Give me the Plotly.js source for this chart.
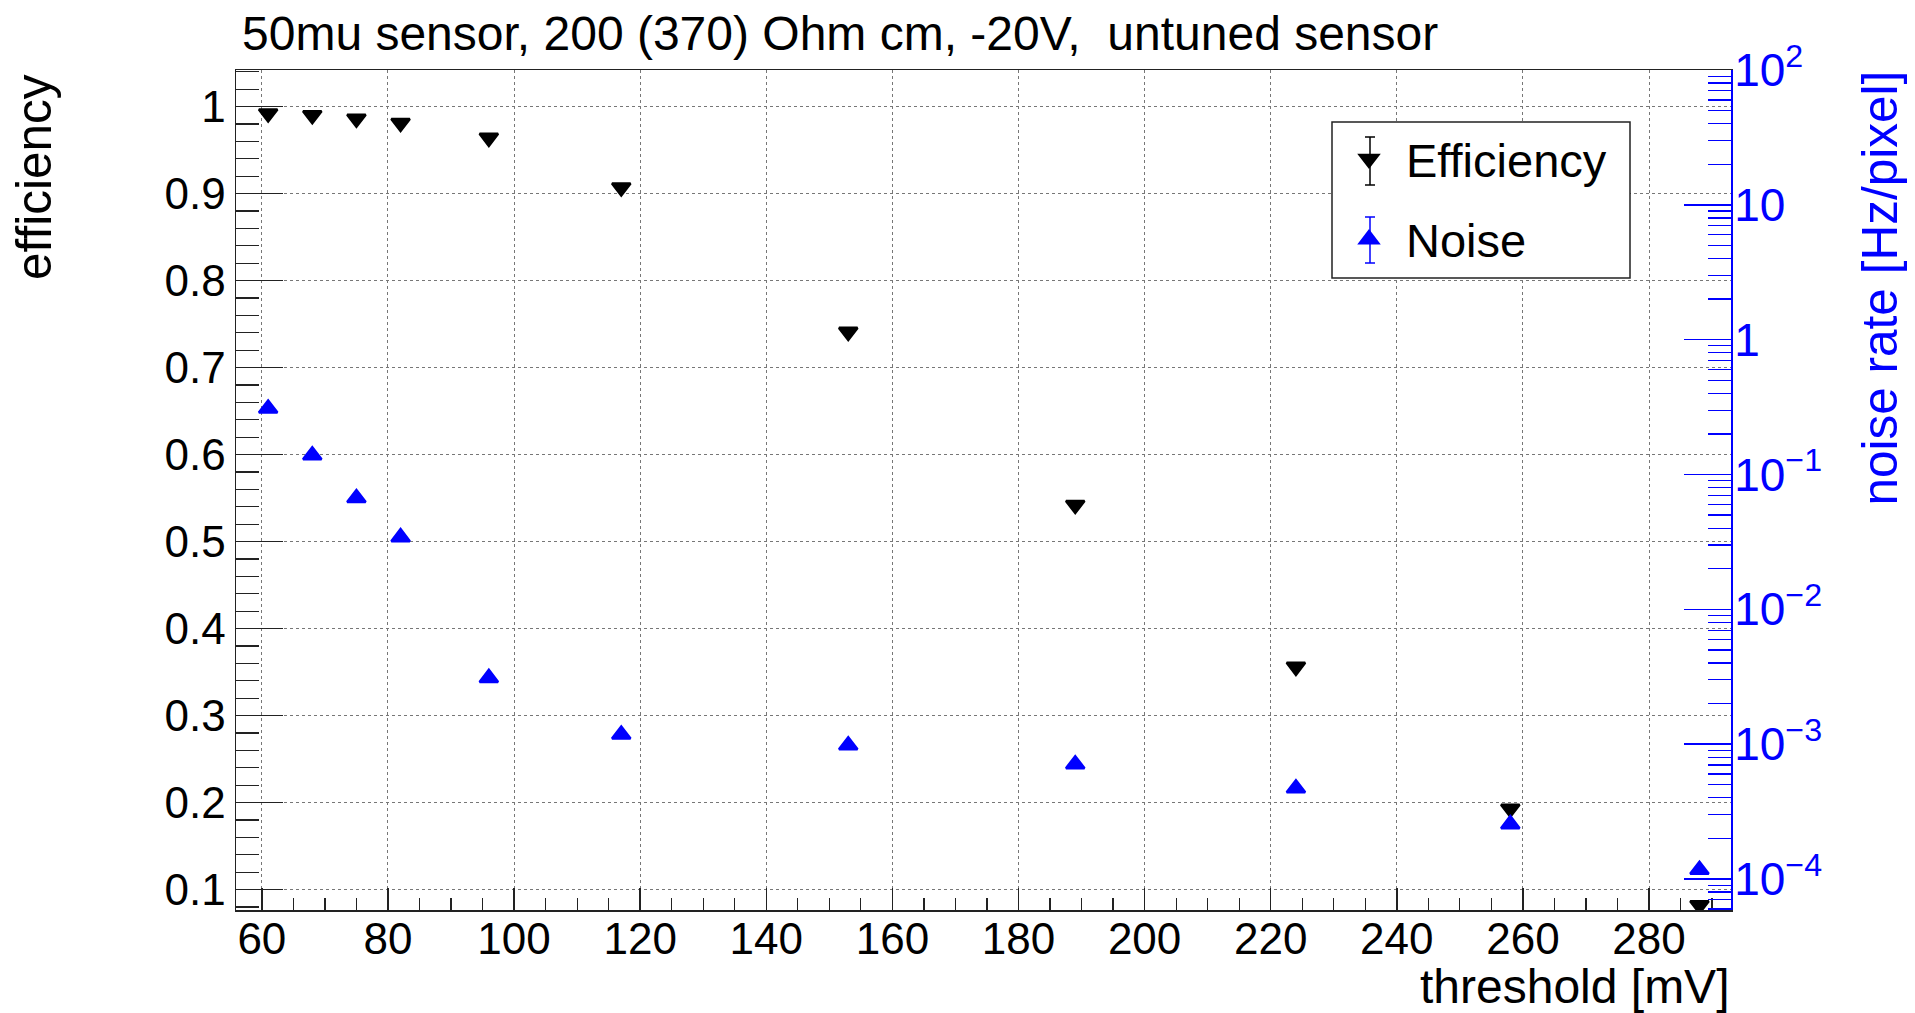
<!DOCTYPE html>
<html><head><meta charset="utf-8">
<script src="https://cdn.plot.ly/plotly-3.0.1.min.js"></script>
<style>html,body{margin:0;padding:0;background:#fff;} #chart{width:1915px;height:1013px;}</style>
</head><body><div id="chart"></div>
<script>
// data
const thresholds = [61, 68, 75, 82, 96, 117, 153, 189, 224, 258, 288];
const efficiency = [0.992, 0.990, 0.986, 0.981, 0.964, 0.907, 0.741, 0.542, 0.356, 0.193, 0.082];
const noiseRate  = [0.308, 0.139, 0.067, 0.0343, 0.0031, 0.00118, 0.00098, 0.00071, 0.00047, 0.000255, 0.000117];
const noiseTickVals = [1e-4, 1e-3, 1e-2, 1e-1, 1, 10, 100];
const noiseTickText = ['10<sup>−4</sup>', '10<sup>−3</sup>', '10<sup>−2</sup>', '10<sup>−1</sup>', '1', '10', '10<sup>2</sup>'];
const effTickVals = [0.1, 0.2, 0.3, 0.4, 0.5, 0.6, 0.7, 0.8, 0.9, 1];
const effTickText = ['0.1', '0.2', '0.3', '0.4', '0.5', '0.6', '0.7', '0.8', '0.9', '1'];
const titleText = '50mu sensor, 200 (370) Ohm cm, -20V,  untuned sensor';

const FONT = "'Liberation Sans', Arial, Helvetica, sans-serif";
const TICKFS = 44;
const BLUE = '#0000ff';

// plot area in pixels
const L = 236, R = 1731, T = 70, B = 910;
const px = v => (v - L) / (R - L);
const py = v => (B - v) / (B - T);

const traces = [
  {
    x: thresholds, y: efficiency, name: 'Efficiency', type: 'scatter', mode: 'markers',
    legendgroup: 'eff',
    marker: {symbol: 'triangle-down', size: 16, color: '#000', line: {color: '#000', width: 2.5}},
    xaxis: 'x', yaxis: 'y'
  },
  {
    x: thresholds, y: noiseRate, name: 'Noise', type: 'scatter', mode: 'markers',
    legendgroup: 'noise',
    marker: {symbol: 'triangle-up', size: 16, color: BLUE, line: {color: BLUE, width: 2.5}},
    xaxis: 'x', yaxis: 'y2'
  }
];

// legend frame and error-bar whiskers of the legend symbols
const shapes = [
  {type: 'rect', xref: 'paper', yref: 'paper', x0: px(1332), x1: px(1630), y0: py(278), y1: py(122),
   fillcolor: '#fff', line: {color: '#222', width: 1.5}, layer: 'above'},
  {type: 'line', xref: 'paper', yref: 'paper', x0: px(1370), x1: px(1370), y0: py(137), y1: py(185), line: {color: '#000', width: 1.5}, layer: 'above'},
  {type: 'line', xref: 'paper', yref: 'paper', x0: px(1365), x1: px(1375), y0: py(137), y1: py(137), line: {color: '#000', width: 1.5}, layer: 'above'},
  {type: 'line', xref: 'paper', yref: 'paper', x0: px(1365), x1: px(1375), y0: py(185), y1: py(185), line: {color: '#000', width: 1.5}, layer: 'above'},
  {type: 'line', xref: 'paper', yref: 'paper', x0: px(1370), x1: px(1370), y0: py(217), y1: py(263), line: {color: BLUE, width: 1.5}, layer: 'above'},
  {type: 'line', xref: 'paper', yref: 'paper', x0: px(1365), x1: px(1375), y0: py(217), y1: py(217), line: {color: BLUE, width: 1.5}, layer: 'above'},
  {type: 'line', xref: 'paper', yref: 'paper', x0: px(1365), x1: px(1375), y0: py(263), y1: py(263), line: {color: BLUE, width: 1.5}, layer: 'above'}
];

const layout = {
  width: 1915, height: 1013,
  paper_bgcolor: '#fff', plot_bgcolor: '#fff',
  margin: {l: L, r: 1915 - R, t: T, b: 1013 - B, pad: 0},
  font: {family: FONT, size: TICKFS, color: '#000'},
  title: {
    text: titleText, font: {family: FONT, size: 48, color: '#000'},
    xref: 'container', x: 242 / 1915, xanchor: 'left',
    yref: 'container', y: 1 - 33 / 1013, yanchor: 'middle'
  },
  showlegend: true,
  legend: {
    x: px(1332), y: py(122), xanchor: 'left', yanchor: 'top',
    bgcolor: 'rgba(0,0,0,0)', borderwidth: 0,
    itemwidth: 64, tracegroupgap: 16,
    font: {family: FONT, size: 47, color: '#000'}
  },
  shapes: shapes,
  xaxis: {
    range: [55.9, 293.0], tick0: 0, dtick: 20, tickmode: 'linear',
    ticks: 'inside', ticklen: 22, tickwidth: 1.5, tickcolor: '#222',
    minor: {dtick: 5, ticks: 'inside', ticklen: 12, tickwidth: 1.2, tickcolor: '#222', showgrid: false},
    showgrid: true, gridcolor: '#777', griddash: 'dot', gridwidth: 1,
    showline: true, linecolor: '#222', linewidth: 1.5, mirror: true,
    zeroline: false, tickfont: {family: FONT, size: TICKFS, color: '#000'},
    ticklabelstandoff: -10
  },
  yaxis: {
    range: [0.0765, 1.042], tickmode: 'array', tickvals: effTickVals, ticktext: effTickText,
    ticks: 'inside', ticklen: 47, tickwidth: 1.5, tickcolor: '#222',
    minor: {tick0: 0, dtick: 0.02, ticks: 'inside', ticklen: 23, tickwidth: 1.2, tickcolor: '#222', showgrid: false},
    showgrid: true, gridcolor: '#777', griddash: 'dot', gridwidth: 1,
    showline: true, linecolor: '#222', linewidth: 1.5, mirror: false,
    zeroline: false, tickfont: {family: FONT, size: TICKFS, color: '#000'},
    ticklabelstandoff: 0
  },
  yaxis2: {
    type: 'log', range: [-4.23, 2], overlaying: 'y', side: 'right',
    tickmode: 'array', tickvals: noiseTickVals, ticktext: noiseTickText,
    ticks: 'inside', ticklen: 47, tickwidth: 1.5, tickcolor: BLUE,
    minor: {dtick: 'D1', ticks: 'inside', ticklen: 23, tickwidth: 1.2, tickcolor: BLUE, showgrid: false},
    showgrid: false, showline: true, linecolor: BLUE, linewidth: 2,
    zeroline: false, tickfont: {family: FONT, size: TICKFS + 2, color: BLUE},
    ticklabelstandoff: -8
  },
  annotations: [
    {text: 'efficiency', xref: 'paper', yref: 'paper', x: px(33), y: py(72),
     xanchor: 'center', yanchor: 'top', textangle: -90, showarrow: false,
     font: {family: FONT, size: 49.5, color: '#000'}},
    {text: 'noise rate [Hz/pixel]', xref: 'paper', yref: 'paper', x: px(1879), y: py(68),
     xanchor: 'center', yanchor: 'top', textangle: -90, showarrow: false,
     font: {family: FONT, size: 49.5, color: BLUE}},
    {text: 'threshold [mV]', xref: 'paper', yref: 'paper', x: 1, y: py(987),
     xanchor: 'right', yanchor: 'middle', showarrow: false,
     font: {family: FONT, size: 48, color: '#000'}}
  ]
};

Plotly.newPlot('chart', traces, layout, {displayModeBar: false, staticPlot: true});
</script>
</body></html>
